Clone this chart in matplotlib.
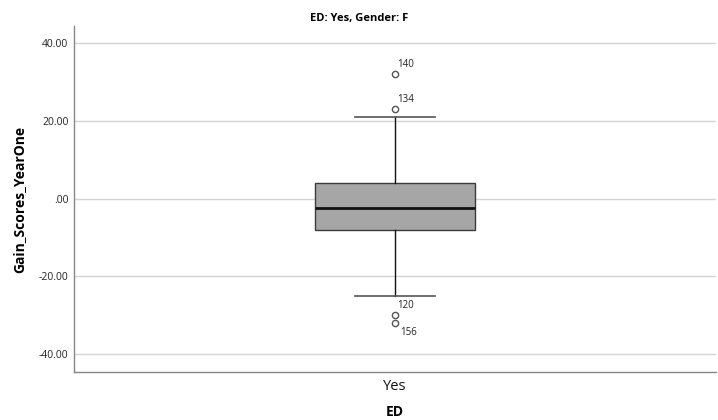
import matplotlib
matplotlib.use("Agg")
import matplotlib.pyplot as plt
from matplotlib.ticker import FuncFormatter

plt.rcParams["font.family"] = ["Open Sans", "DejaVu Sans"]

# Five-number summary for the ED = Yes, Gender = F group
category = "Yes"
q1, median, q3 = -8.0, -2.5, 4.0
whisker_low, whisker_high = -25.0, 21.0
outlier_ids = ["140", "134", "120", "156"]
outlier_values = [32.0, 23.0, -30.0, -32.0]
y_ticks = [-40, -20, 0, 20, 40]

fig = plt.figure(figsize=(7.18, 4.2), dpi=100)
ax = fig.add_axes([0.103, 0.114, 0.894, 0.824])

stats = [{
    "label": category,
    "q1": q1, "med": median, "q3": q3,
    "whislo": whisker_low, "whishi": whisker_high,
    "fliers": outlier_values,
}]
ax.bxp(
    stats, positions=[0], widths=0.5, patch_artist=True,
    boxprops=dict(facecolor="#a6a6a6", edgecolor="#3c3c3c", linewidth=1.0),
    medianprops=dict(color="#111111", linewidth=2.0),
    whiskerprops=dict(color="#111111", linewidth=1.0),
    capprops=dict(color="#555555", linewidth=1.2),
    capwidths=0.25,
    flierprops=dict(marker="o", markersize=4.5, markerfacecolor="white",
                    markeredgecolor="#555555", markeredgewidth=1.0),
    zorder=3,
)

# Case numbers beside the outliers
for cid, val in zip(outlier_ids, outlier_values):
    if cid == "156":
        ax.annotate(cid, (0, val), xytext=(3.5, -7), textcoords="offset points",
                    fontsize=7, color="#222222", va="center")
    else:
        ax.annotate(cid, (0, val), xytext=(1.5, 7), textcoords="offset points",
                    fontsize=7, color="#222222", va="center")

ax.set_xlim(-1, 1)
ax.set_ylim(-44.6, 44.4)
ax.set_yticks(y_ticks)


def fmt(v, pos):
    s = f"{v:.2f}"
    if s.startswith("0."):
        s = s[1:]
    elif s.startswith("-0."):
        s = "-" + s[2:]
    return s


ax.yaxis.set_major_formatter(FuncFormatter(fmt))
ax.grid(axis="y", color="#d4d4d4", linewidth=1.0, zorder=0)
ax.set_axisbelow(True)

for side in ("top", "right"):
    ax.spines[side].set_visible(False)
for side in ("left", "bottom"):
    ax.spines[side].set_color("#888888")
    ax.spines[side].set_linewidth(1.0)

ax.tick_params(axis="y", length=0, labelsize=7.5, pad=4, labelcolor="#222222")
ax.tick_params(axis="x", length=0, labelsize=10.5, pad=5, labelcolor="#111111")

fig.suptitle("ED: Yes, Gender: F", fontsize=8, fontweight="bold", y=0.968)
ax.set_xlabel("ED", fontsize=10, fontweight="bold", labelpad=8)
ax.set_ylabel("Gain_Scores_YearOne", fontsize=10, fontweight="bold", labelpad=9)

fig.savefig("out.png", dpi=100)
